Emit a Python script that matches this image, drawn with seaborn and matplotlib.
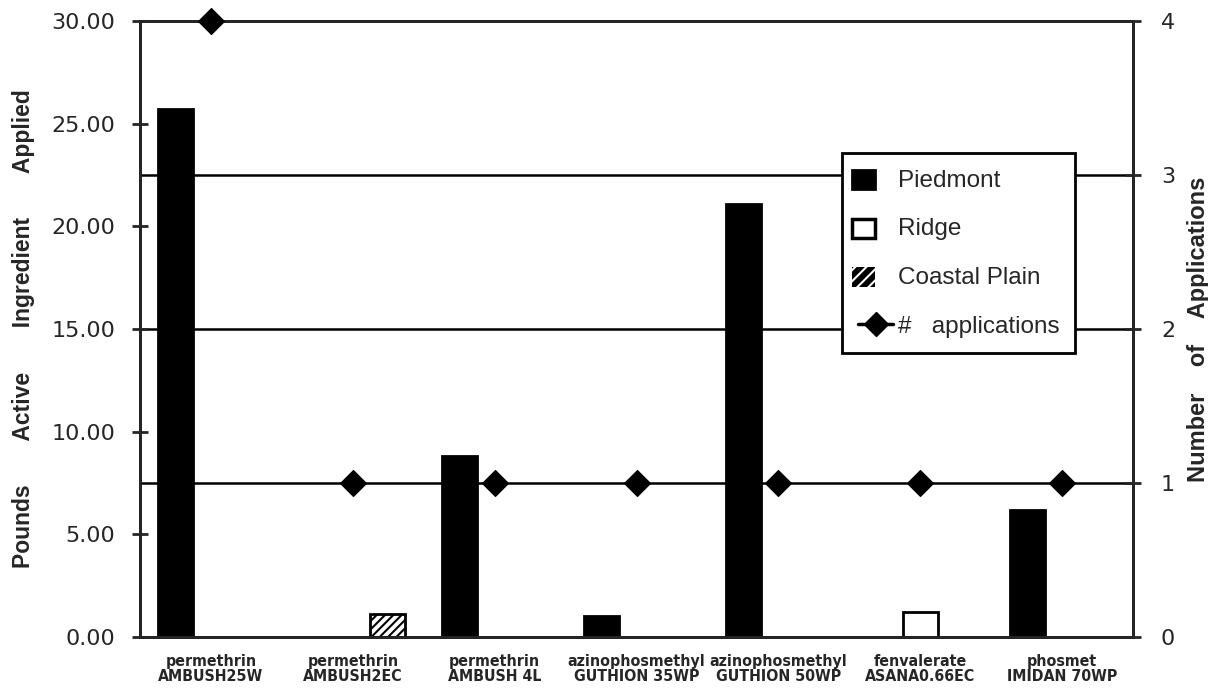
import matplotlib
matplotlib.use("Agg")
import matplotlib.pyplot as plt
import seaborn as sns
import numpy as np
import pandas as pd
from matplotlib.patches import Patch, Rectangle
from matplotlib.lines import Line2D
from matplotlib.legend_handler import HandlerPatch

products = ["permethrin\nAMBUSH25W", "permethrin\nAMBUSH2EC", "permethrin\nAMBUSH 4L",
            "azinophosmethyl\nGUTHION 35WP", "azinophosmethyl\nGUTHION 50WP",
            "fenvalerate\nASANA0.66EC", "phosmet\nIMIDAN 70WP"]
regions = ["Piedmont", "Ridge", "Coastal Plain"]
piedmont = [25.7, 0.0, 8.8, 1.0, 21.1, 0.0, 6.2]
ridge = [0.0, 0.0, 0.0, 0.0, 0.0, 1.2, 0.0]
coastal = [0.0, 1.1, 0.0, 0.0, 0.0, 0.0, 0.0]
applications = [4, 1, 1, 1, 1, 1, 1]
left_ticks = [0, 5, 10, 15, 20, 25, 30]
right_ticks = [0, 1, 2, 3, 4]

df = pd.DataFrame({
    "product": products * 3,
    "region": [regions[0]] * 7 + [regions[1]] * 7 + [regions[2]] * 7,
    "value": piedmont + ridge + coastal,
})

sns.set_style("white")
plt.rcParams["font.family"] = ["Liberation Sans", "DejaVu Sans"]
plt.rcParams["hatch.linewidth"] = 1.5

fig = plt.figure(figsize=(12.08, 6.96), dpi=100)
ax = fig.add_axes([0.1159, 0.0848, 0.938 - 0.1159, 0.9698 - 0.0848])

colors = {"Piedmont": "black", "Ridge": "white", "Coastal Plain": "white"}
sns.barplot(data=df, x="product", y="value", hue="region", hue_order=regions,
            palette=colors, width=0.74, dodge=True, ax=ax, legend=False,
            edgecolor="black", linewidth=2, zorder=2)

hatches = {"Piedmont": "", "Ridge": "", "Coastal Plain": "////"}
for cont, reg in zip(ax.containers, regions):
    for bar, v in zip(cont, df[df.region == reg]["value"]):
        bar.set_hatch(hatches[reg])
        if v == 0:
            bar.set_visible(False)

ax.set_ylim(0, 30)
ax.set_xlim(-0.5, len(products) - 0.5)
ax.set_yticks(left_ticks)
ax.set_yticklabels([f"{t:.2f}" for t in left_ticks], fontsize=16, family="DejaVu Sans")
for y in np.linspace(0, 30, 5)[1:-1]:
    ax.axhline(y, color="black", lw=1.8, zorder=0)
ax.tick_params(axis="y", direction="inout", length=12, width=2, pad=12)
ax.set_xticks(np.arange(len(products)) - 0.5, minor=True)
ax.tick_params(axis="x", which="minor", direction="out", length=5, width=2)
ax.tick_params(axis="x", which="major", length=0, pad=12)
ax.set_xticklabels(products, fontsize=11.4, linespacing=1.0, family="DejaVu Sans",
                   fontstretch="condensed", fontweight="bold")
ax.set_xlabel("")
ax.set_ylabel("Pounds       Active       Ingredient       Applied", fontsize=16.5,
              fontweight="bold", family="Liberation Sans")
ax.yaxis.set_label_coords(-0.106, 0.5)
for s in ax.spines.values():
    s.set_linewidth(2)
    s.set_color("black")

ax2 = ax.twinx()
sns.scatterplot(x=list(range(len(products))), y=applications, ax=ax2, marker="D",
                color="black", s=170, edgecolor="black", zorder=5, clip_on=False, legend=False)
ax2.set_ylim(0, 4)
ax2.set_yticks(right_ticks)
ax2.set_yticklabels([str(t) for t in right_ticks], fontsize=16, family="DejaVu Sans")
ax2.tick_params(axis="y", direction="inout", length=12, width=2, pad=14)
ax2.set_ylabel("Number    of    Applications", fontsize=17, fontweight="bold")
ax2.yaxis.set_label_coords(1.054, 0.5)
for s in ax2.spines.values():
    s.set_linewidth(2)
ax2.set_xlim(-0.5, len(products) - 0.5)


def square_patch(legend, orig_handle, xdescent, ydescent, width, height, fontsize):
    return Rectangle((-xdescent - 4, -ydescent - 1), height * 1.15, height * 1.0)


handles = [Patch(facecolor="black", edgecolor="black", linewidth=2),
           Patch(facecolor="white", edgecolor="black", linewidth=2.5),
           Patch(facecolor="black", edgecolor="white", hatch="///", linewidth=0),
           Line2D([0], [0], color="black", lw=2.5, marker="D", markersize=12)]
labels = ["Piedmont", "Ridge", "Coastal Plain", "#   applications"]
leg = ax2.legend(handles, labels, loc="upper left", bbox_to_anchor=(0.707, 0.786),
                 frameon=True, fancybox=False, framealpha=1, edgecolor="black",
                 fontsize=17.5, handlelength=1.45, handleheight=0.85, labelspacing=1.05,
                 borderpad=0.65, borderaxespad=0, handletextpad=0.2,
                 handler_map={Patch: HandlerPatch(patch_func=square_patch)})
leg.get_frame().set_linewidth(2)
leg.set_zorder(10)

fig.savefig("out.png", dpi=100)
